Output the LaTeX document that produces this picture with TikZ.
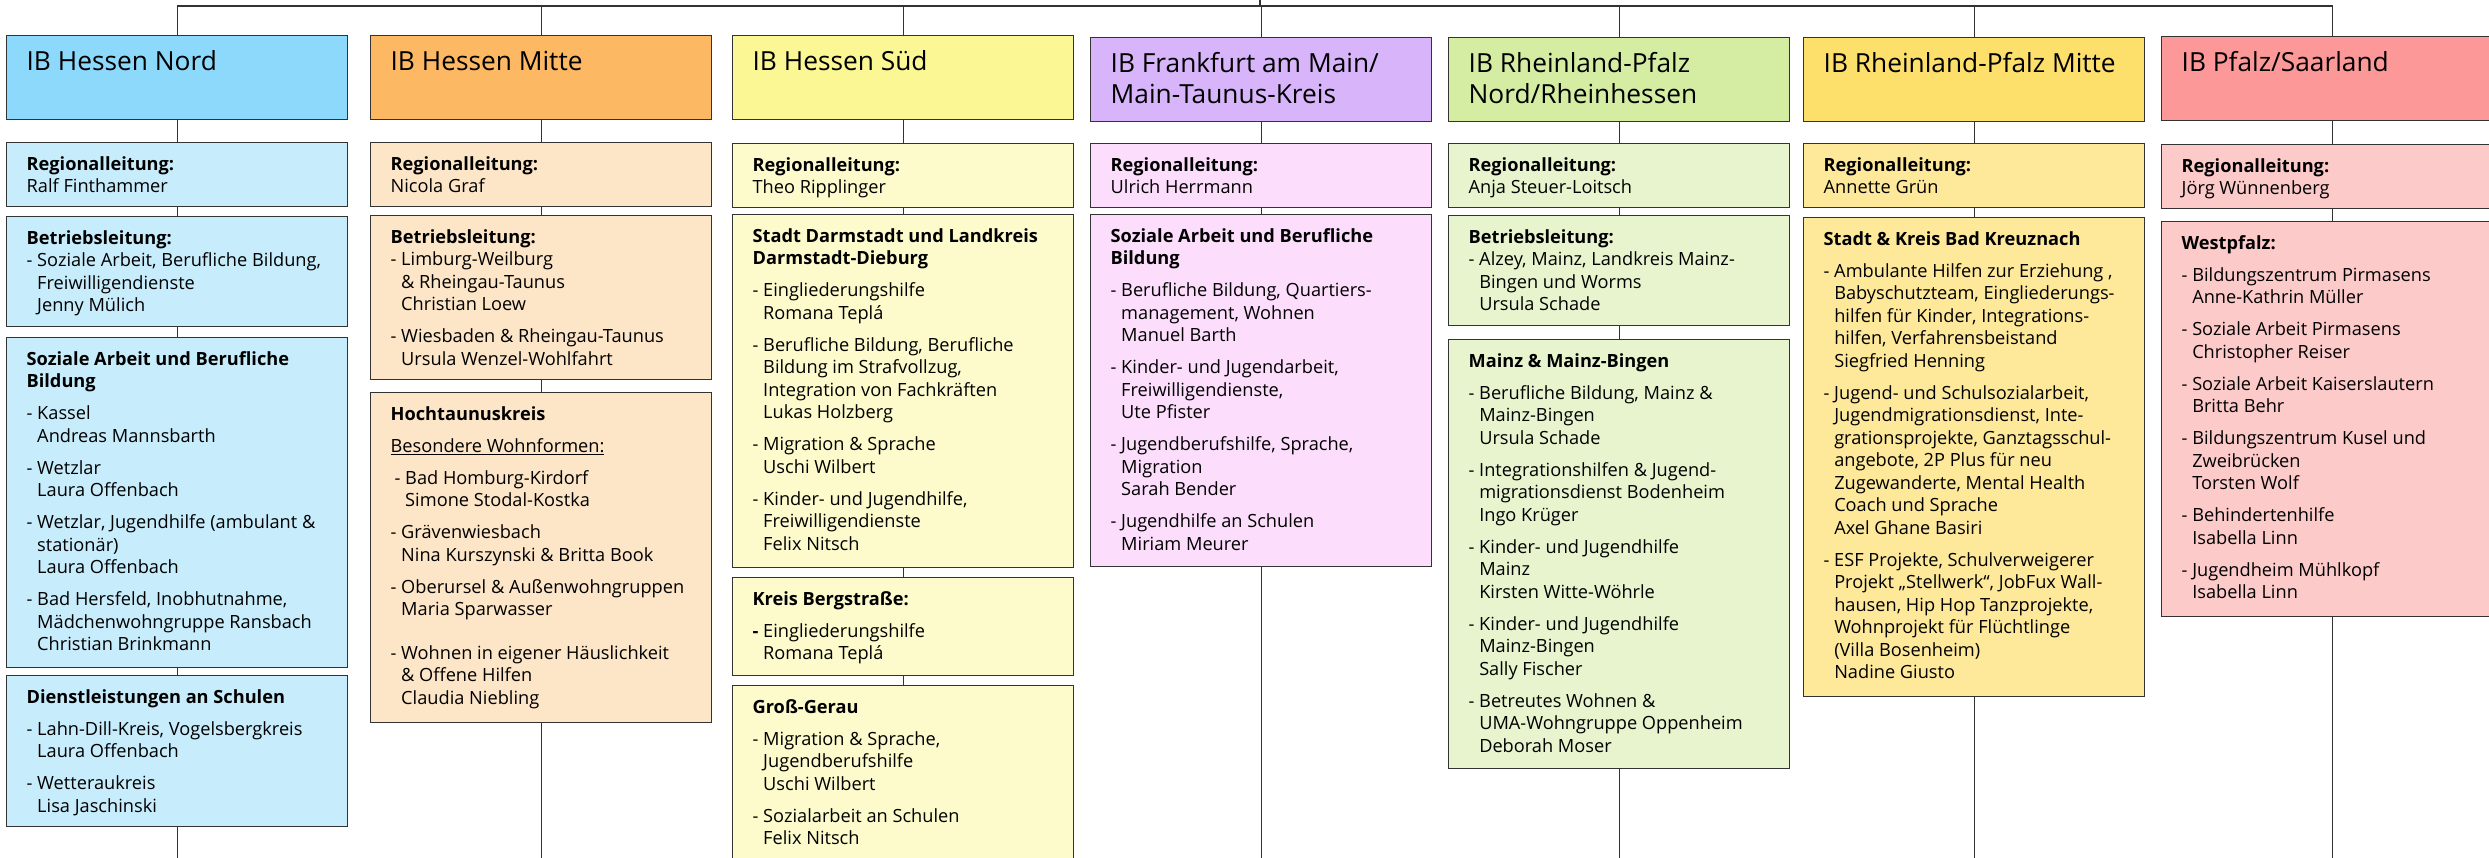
\documentclass[tikz,border=0pt]{standalone}
\usepackage{fontspec}
\setmainfont{Open Sans}
\usepackage{tikz}
\usetikzlibrary{positioning}
\tikzset{>=latex}

\definecolor{nordhead}{HTML}{8DD9FC}
\definecolor{nordsub}{HTML}{C7ECFC}
\definecolor{mittehead}{HTML}{FDB863}
\definecolor{mittesub}{HTML}{FDE5C7}
\definecolor{suedhead}{HTML}{FBF794}
\definecolor{suedsub}{HTML}{FDFBCC}
\definecolor{ffmhead}{HTML}{D8B4FA}
\definecolor{ffmsub}{HTML}{FCDDFC}
\definecolor{rpnhead}{HTML}{D4EDA2}
\definecolor{rpnsub}{HTML}{E7F4CE}
\definecolor{rpmhead}{HTML}{FDDF6B}
\definecolor{rpmsub}{HTML}{FEE99B}
\definecolor{pfalzhead}{HTML}{FD9898}
\definecolor{pfalzsub}{HTML}{FDCACA}

\newlength\dashw
% text of a box: height, content
\newcommand{\orgtext}[2]{\parbox[c][#1pt][t]{341pt}{\fontsize{18.2pt}{22.5pt}\selectfont
  \settowidth\dashw{-\ }\parindent=0pt\parskip=0pt
  \leftskip=20pt\rightskip=-15pt plus 1fil\rule{0pt}{27.5pt}#2}}
\newcommand{\headtext}[2]{\parbox[c][#1pt][t]{341pt}{\fontsize{26.3pt}{31pt}\selectfont
  \parindent=0pt\leftskip=20pt\rightskip=0pt plus 1fil\rule{0pt}{35pt}#2}}
\newcommand{\itm}[2][9.5pt]{\par\vspace{#1}\hangindent=\dashw\hangafter=1 -\ #2}

\begin{document}
\begin{tikzpicture}[x=1pt,y=-1pt]

        % Setup the style for the boxes
        \tikzset{org/.style={draw=black!80,
                             line width=1.3pt,
                             anchor=north west,
                             inner sep=0pt},
                 conn/.style={draw=black!80, line width=1.3pt}}
        \useasboundingbox (0,0) rectangle (2489,858);

        % IB Hessen Nord
        \node[org,fill=nordhead] at (6, 35) (nord) {\headtext{84}{IB Hessen Nord}};
        \node[org,fill=nordsub] at (6, 142) (nordrl) {\orgtext{64}{\textbf{Regionalleitung:}\\Ralf Finthammer}};
        \node[org,fill=nordsub] at (6, 216) (nordbl) {\orgtext{110}{\textbf{Betriebsleitung:}
            \itm[0pt]{Soziale Arbeit, Berufliche Bildung,\\Freiwilligendienste\\Jenny Mülich}}};
        \node[org,fill=nordsub] at (6, 337) (nordsa) {\orgtext{330}{\textbf{Soziale Arbeit und Berufliche\\Bildung}
            \itm{Kassel\\Andreas Mannsbarth}
            \itm{Wetzlar\\Laura Offenbach}
            \itm{Wetzlar, Jugendhilfe (ambulant \&\\stationär)\\Laura Offenbach}
            \itm{Bad Hersfeld, Inobhutnahme,\\Mädchenwohngruppe Ransbach\\Christian Brinkmann}}};
        \node[org,fill=nordsub] at (6, 675) (nordds) {\orgtext{151}{\textbf{Dienstleistungen an Schulen}
            \itm{Lahn-Dill-Kreis, Vogelsbergkreis\\Laura Offenbach}
            \itm{Wetteraukreis\\Lisa Jaschinski}}};

        % IB Hessen Mitte
        \node[org,fill=mittehead] at (370, 35) (mitte) {\headtext{84}{IB Hessen Mitte}};
        \node[org,fill=mittesub] at (370, 142) (mitterl) {\orgtext{64}{\textbf{Regionalleitung:}\\Nicola Graf}};
        \node[org,fill=mittesub] at (370, 215) (mittebl) {\orgtext{164}{\textbf{Betriebsleitung:}
            \itm[0pt]{Limburg-Weilburg\\\& Rheingau-Taunus\\Christian Loew}
            \itm{Wiesbaden \& Rheingau-Taunus\\Ursula Wenzel-Wohlfahrt}}};
        \node[org,fill=mittesub] at (370, 392) (mitteht) {\orgtext{330}{\textbf{Hochtaunuskreis}\par\vspace{9.5pt}
            \underline{Besondere Wohnformen:}
            \par\vspace{9.5pt}\hangindent=\dimexpr\dashw+4pt\relax\hangafter=1
            \hspace*{4pt}-\ Bad Homburg-Kirdorf\\Simone Stodal-Kostka
            \itm{Grävenwiesbach\\Nina Kurszynski \& Britta Book}
            \itm{Oberursel \& Außenwohngruppen\\Maria Sparwasser}
            \itm[21pt]{Wohnen in eigener Häuslichkeit\\\& Offene Hilfen\\Claudia Niebling}}};

        % IB Hessen Sued
        \node[org,fill=suedhead] at (732, 35) (sued) {\headtext{84}{IB Hessen Süd}};
        \node[org,fill=suedsub] at (732, 143) (suedrl) {\orgtext{64}{\textbf{Regionalleitung:}\\Theo Ripplinger}};
        \node[org,fill=suedsub] at (732, 214) (suedda) {\orgtext{353}{\textbf{Stadt Darmstadt und Landkreis\\Darmstadt-Dieburg}
            \itm{Eingliederungshilfe\\Romana Teplá}
            \itm{Berufliche Bildung, Berufliche\\Bildung im Strafvollzug,\\Integration von Fachkräften\\Lukas Holzberg}
            \itm{Migration \& Sprache\\Uschi Wilbert}
            \itm{Kinder- und Jugendhilfe,\\Freiwilligendienste\\Felix Nitsch}}};
        \node[org,fill=suedsub] at (732, 577) (suedkb) {\orgtext{98}{\textbf{Kreis Bergstraße:}\par\vspace{9.5pt}
            \hangindent=\dashw\hangafter=1 \textbf{-}\ Eingliederungshilfe\\Romana Teplá}};
        \node[org,fill=suedsub] at (732, 685) (suedgg) {\orgtext{215}{\textbf{Groß-Gerau}
            \itm{Migration \& Sprache,\\Jugendberufshilfe\\Uschi Wilbert}
            \itm{Sozialarbeit an Schulen\\Felix Nitsch}}};

        % IB Frankfurt am Main/Main-Taunus-Kreis
        \node[org,fill=ffmhead] at (1090, 37) (ffm) {\headtext{84}{IB Frankfurt am Main/\\Main-Taunus-Kreis}};
        \node[org,fill=ffmsub] at (1090, 143) (ffmrl) {\orgtext{64}{\textbf{Regionalleitung:}\\Ulrich Herrmann}};
        \node[org,fill=ffmsub] at (1090, 214) (ffmsa) {\orgtext{352}{\textbf{Soziale Arbeit und Berufliche\\Bildung}
            \itm{Berufliche Bildung, Quartiers-\\management, Wohnen\\Manuel Barth}
            \itm{Kinder- und Jugendarbeit,\\Freiwilligendienste,\\Ute Pfister}
            \itm{Jugendberufshilfe, Sprache,\\Migration\\Sarah Bender}
            \itm{Jugendhilfe an Schulen\\Miriam Meurer}}};

        % IB Rheinland-Pfalz Nord/Rheinhessen
        \node[org,fill=rpnhead] at (1448, 37) (rpn) {\headtext{84}{IB Rheinland-Pfalz\\Nord/Rheinhessen}};
        \node[org,fill=rpnsub] at (1448, 143) (rpnrl) {\orgtext{64}{\textbf{Regionalleitung:}\\Anja Steuer-Loitsch}};
        \node[org,fill=rpnsub] at (1448, 215) (rpnbl) {\orgtext{110}{\textbf{Betriebsleitung:}
            \itm[0pt]{Alzey, Mainz, Landkreis Mainz-\\Bingen und Worms\\Ursula Schade}}};
        \node[org,fill=rpnsub] at (1448, 339) (rpnmz) {\orgtext{429}{\textbf{Mainz \& Mainz-Bingen}
            \itm{Berufliche Bildung, Mainz \&\\Mainz-Bingen\\Ursula Schade}
            \itm{Integrationshilfen \& Jugend-\\migrationsdienst Bodenheim\\Ingo Krüger}
            \itm{Kinder- und Jugendhilfe\\Mainz\\Kirsten Witte-Wöhrle}
            \itm{Kinder- und Jugendhilfe\\Mainz-Bingen\\Sally Fischer}
            \itm{Betreutes Wohnen \&\\UMA-Wohngruppe Oppenheim\\Deborah Moser}}};

        % IB Rheinland-Pfalz Mitte
        \node[org,fill=rpmhead] at (1803, 37) (rpm) {\headtext{84}{IB Rheinland-Pfalz Mitte}};
        \node[org,fill=rpmsub] at (1803, 143) (rpmrl) {\orgtext{64}{\textbf{Regionalleitung:}\\Annette Grün}};
        \node[org,fill=rpmsub] at (1803, 217) (rpmkr) {\orgtext{479}{\textbf{Stadt \& Kreis Bad Kreuznach}
            \itm{Ambulante Hilfen zur Erziehung ,\\Babyschutzteam, Eingliederungs-\\hilfen für Kinder, Integrations-\\hilfen, Verfahrensbeistand\\Siegfried Henning}
            \itm{Jugend- und Schulsozialarbeit,\\Jugendmigrationsdienst, Inte-\\grationsprojekte, Ganztagsschul-\\angebote, 2P Plus für neu\\Zugewanderte, Mental Health\\Coach und Sprache\\Axel Ghane Basiri}
            \itm{ESF Projekte, Schulverweigerer\\Projekt „Stellwerk“, JobFux Wall-\\hausen, Hip Hop Tanzprojekte,\\Wohnprojekt für Flüchtlinge\\(Villa Bosenheim)\\Nadine Giusto}}};

        % IB Pfalz/Saarland
        \node[org,fill=pfalzhead] at (2161, 36) (pfalz) {\headtext{84}{IB Pfalz/Saarland}};
        \node[org,fill=pfalzsub] at (2161, 144) (pfalzrl) {\orgtext{64}{\textbf{Regionalleitung:}\\Jörg Wünnenberg}};
        \node[org,fill=pfalzsub] at (2161, 221) (pfalzwp) {\orgtext{395}{\textbf{Westpfalz:}
            \itm{Bildungszentrum Pirmasens\\Anne-Kathrin Müller}
            \itm{Soziale Arbeit Pirmasens\\Christopher Reiser}
            \itm{Soziale Arbeit Kaiserslautern\\Britta Behr}
            \itm{Bildungszentrum Kusel und\\Zweibrücken\\Torsten Wolf}
            \itm{Behindertenhilfe\\Isabella Linn}
            \itm{Jugendheim Mühlkopf\\Isabella Linn}}};

        % Connect the boxes
        \coordinate (bus) at (1260, 6);
        \coordinate (top) at (1260, -20);
        \coordinate (bottom) at (1260, 880);
        \draw[conn] (top) -- (bus);
        \draw[conn] (nord) |- (pfalz |- bus) -- (pfalz);
        \draw[conn] (mitte) -- (mitte |- bus)
                    (sued) -- (sued |- bus)
                    (ffm) -- (ffm |- bus)
                    (rpn) -- (rpn |- bus)
                    (rpm) -- (rpm |- bus);
        \draw[conn]
            (nord) edge (nordrl) (nordrl) edge (nordbl) (nordbl) edge (nordsa) (nordsa) edge (nordds)
            (mitte) edge (mitterl) (mitterl) edge (mittebl) (mittebl) edge (mitteht)
            (sued) edge (suedrl) (suedrl) edge (suedda) (suedda) edge (suedkb) (suedkb) edge (suedgg)
            (ffm) edge (ffmrl) (ffmrl) edge (ffmsa)
            (rpn) edge (rpnrl) (rpnrl) edge (rpnbl) (rpnbl) edge (rpnmz)
            (rpm) edge (rpmrl) (rpmrl) edge (rpmkr)
            (pfalz) edge (pfalzrl) (pfalzrl) edge (pfalzwp);
        \draw[conn]
            (nordds) -- (nordds |- bottom)
            (mitteht) -- (mitteht |- bottom)
            (ffmsa) -- (ffmsa |- bottom)
            (rpnmz) -- (rpnmz |- bottom)
            (rpmkr) -- (rpmkr |- bottom)
            (pfalzwp) -- (pfalzwp |- bottom);
\end{tikzpicture}
\end{document}
